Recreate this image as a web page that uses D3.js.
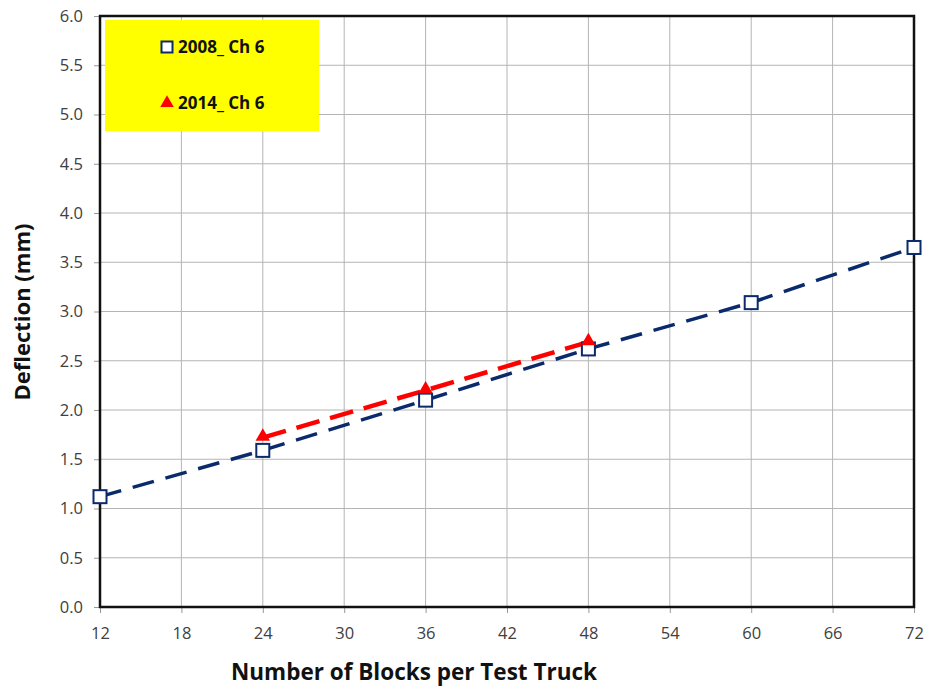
<!DOCTYPE html>
<html>
<head>
<meta charset="utf-8">
<script src="https://cdn.jsdelivr.net/npm/d3@7"></script>
<style>
  body { margin: 0; background: #fff; }
  text { font-family: "Open Sans", "Liberation Sans", sans-serif; }
</style>
</head>
<body>
<div id="chart"></div>
<script>
// data
var blocks2008 = [12, 24, 36, 48, 60, 72];
var defl2008 = [1.12, 1.59, 2.10, 2.62, 3.09, 3.65];
var blocks2014 = [24, 36, 48];
var defl2014 = [1.72, 2.20, 2.69];
var xTicks = [12, 18, 24, 30, 36, 42, 48, 54, 60, 66, 72];
var yTicks = [0, 0.5, 1, 1.5, 2, 2.5, 3, 3.5, 4, 4.5, 5, 5.5, 6];
var seriesNames = ["2008_ Ch 6", "2014_ Ch 6"];

var W = 928, H = 688;
var margin = { left: 100, right: 14, top: 16, bottom: 81 };
var iw = W - margin.left - margin.right,
    ih = H - margin.top - margin.bottom;

var svg = d3.select("#chart").append("svg")
    .attr("width", W).attr("height", H);
var g = svg.append("g").attr("transform", "translate(" + margin.left + "," + margin.top + ")");

var x = d3.scaleLinear().domain([12, 72]).range([0, iw]);
var y = d3.scaleLinear().domain([0, 6]).range([ih, 0]);

// grid
g.append("g").selectAll("line").data(xTicks).join("line")
    .attr("x1", d => x(d)).attr("x2", d => x(d))
    .attr("y1", 0).attr("y2", ih)
    .attr("stroke", "#b4b4b4").attr("stroke-width", 1);
g.append("g").selectAll("line").data(yTicks).join("line")
    .attr("x1", 0).attr("x2", iw)
    .attr("y1", d => y(d)).attr("y2", d => y(d))
    .attr("stroke", "#b4b4b4").attr("stroke-width", 1);

// axes
var yAxis = g.append("g")
    .call(d3.axisLeft(y).tickValues(yTicks).tickFormat(d3.format(".1f")).tickSize(6).tickPadding(11));
var xAxis = g.append("g").attr("transform", "translate(0," + ih + ")")
    .call(d3.axisBottom(x).tickValues(xTicks).tickSize(6).tickPadding(14));
[yAxis, xAxis].forEach(function (a) {
    a.select(".domain").remove();
    a.selectAll(".tick line").attr("stroke", "#999");
    a.selectAll(".tick text").attr("fill", "#404040").style("font-size", "16.5px");
});

// frame
g.append("rect").attr("x", 0).attr("y", 0).attr("width", iw).attr("height", ih)
    .attr("fill", "none").attr("stroke", "#111").attr("stroke-width", 2.5);

// lines
var line = d3.line().x(d => x(d[0])).y(d => y(d[1]));
var pts2008 = blocks2008.map((b, i) => [b, defl2008[i]]);
var pts2014 = blocks2014.map((b, i) => [b, defl2014[i]]);

g.append("path").datum(pts2008).attr("d", line)
    .attr("fill", "none").attr("stroke", "#0a2a6b").attr("stroke-width", 3.5)
    .attr("stroke-dasharray", "22,12");
g.append("path").datum(pts2014).attr("d", line)
    .attr("fill", "none").attr("stroke", "#ff0000").attr("stroke-width", 4.5)
    .attr("stroke-dasharray", "24,11");

var tri = d3.symbol().type(d3.symbolTriangle).size(90);

g.append("g").selectAll("rect").data(pts2008).join("rect")
    .attr("x", d => x(d[0]) - 6.5).attr("y", d => y(d[1]) - 6.5)
    .attr("width", 13).attr("height", 13)
    .attr("fill", "#fff").attr("stroke", "#0a2a6b").attr("stroke-width", 2);
g.append("g").selectAll("path").data(pts2014).join("path")
    .attr("d", tri)
    .attr("transform", d => "translate(" + x(d[0]) + "," + (y(d[1]) - 1) + ")")
    .attr("fill", "#ff0000");

// legend
var leg = svg.append("g");
leg.append("rect").attr("x", 105).attr("y", 20).attr("width", 214).attr("height", 111)
    .attr("fill", "#ffff00");
leg.append("rect").attr("x", 161.5).attr("y", 41.5).attr("width", 11).attr("height", 11)
    .attr("fill", "#fff").attr("stroke", "#0a2a6b").attr("stroke-width", 2);
leg.append("path").attr("d", d3.symbol().type(d3.symbolTriangle).size(80))
    .attr("transform", "translate(167,103)").attr("fill", "#ff0000");
leg.selectAll("text.lbl").data(seriesNames).join("text").attr("class", "lbl")
    .attr("x", 178).attr("y", (d, i) => 53 + i * 56)
    .attr("font-size", "17px").attr("font-weight", "bold").attr("fill", "#111")
    .text(d => d);

// axis titles
svg.append("text").attr("x", margin.left + iw / 2 - 93).attr("y", 680)
    .attr("text-anchor", "middle").attr("font-size", "22.5px").attr("font-weight", "bold")
    .attr("fill", "#111").text("Number of Blocks per Test Truck");
svg.append("text").attr("transform", "translate(30,312) rotate(-90)")
    .attr("text-anchor", "middle").attr("font-size", "22px").attr("font-weight", "bold")
    .attr("fill", "#111").text("Deflection (mm)");
</script>
</body>
</html>
